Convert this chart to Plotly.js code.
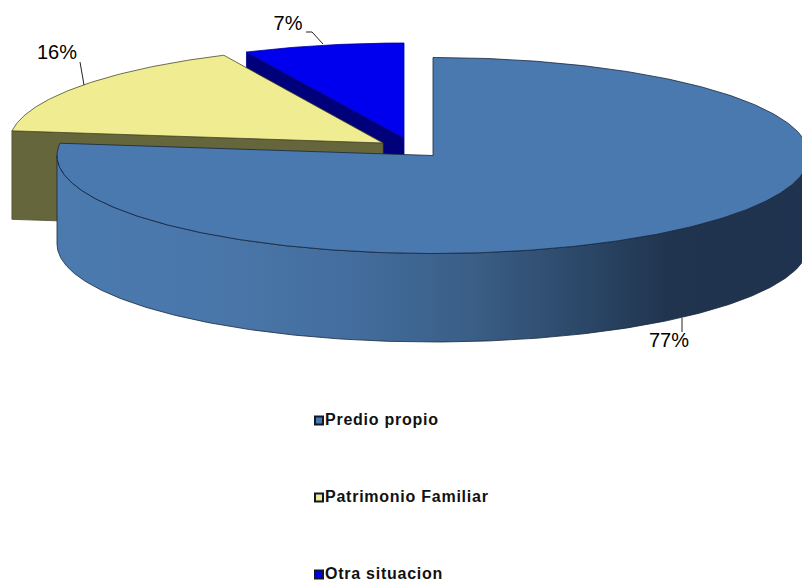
<!DOCTYPE html>
<html>
<head>
<meta charset="utf-8">
<script src="https://cdn.plot.ly/plotly-3.0.1.min.js"></script>
<style>html,body{margin:0;padding:0;background:#fff}#chart{width:802px;height:581px}
.scatterlayer .trace:last-child .textpoint text{letter-spacing:.75px}</style>
</head>
<body>
<div id="chart"></div>
<script>
const categories = ["Predio propio", "Patrimonio Familiar", "Otra situacion"];
const shares = [77, 16, 7];

// Styles and geometry of the tilted, exploded pie (pixel-scale axes)
const topColors = ["#4a79af", "#f0ec92", "#0000ee"];
const wallColors = ["#1f3350", "#66663c", "#00007a"];
const edgeColors = ["#16263c", "#4a4a2a", "#0000a0"];
const apexes = [[433, 155.5], [383, 143], [404, 138]];
const radii = [[376, 98], [374, 97], [370, 95]];
const depth = 88.5;
const labelPos = [[669, 342], [57, 54], [288, 25]];
const leaders = [
  [[682, 318], [682, 332]],
  [[84, 85], [80, 62]],
  [[323, 44], [312, 32], [306, 32]]
];
const legendY = [420.5, 497.5, 574.5];
const legendX = 319;

const total = shares.reduce((a, b) => a + b, 0);
let acc = 0;
const spans = shares.map(v => { const s = acc; acc += v; return [s / total * 2 * Math.PI, acc / total * 2 * Math.PI]; });

function arc(i, a0, a1, dy) {
  const [cx, cy] = apexes[i], [rx, ry] = radii[i];
  const n = Math.max(2, Math.ceil(Math.abs(a1 - a0) / 0.01));
  const xs = [], ys = [];
  for (let k = 0; k <= n; k++) {
    const t = a0 + (a1 - a0) * k / n;
    xs.push(cx + rx * Math.sin(t));
    ys.push(cy - ry * Math.cos(t) + dy);
  }
  return [xs, ys];
}
function topSlice(i) {
  const [xs, ys] = arc(i, spans[i][0], spans[i][1], 0);
  return {
    type: "scatter", mode: "lines", name: categories[i], showlegend: false, hoverinfo: "name",
    x: [apexes[i][0], ...xs, apexes[i][0]], y: [apexes[i][1], ...ys, apexes[i][1]],
    fill: "toself", fillcolor: topColors[i], line: { color: edgeColors[i], width: 0.8 }
  };
}
// front wall along a radial edge (apex to rim at the given angle)
function radialWall(i, ang) {
  const [cx, cy] = apexes[i], [rx, ry] = radii[i];
  const px = cx + rx * Math.sin(ang), py = cy - ry * Math.cos(ang);
  return {
    type: "scatter", mode: "lines", showlegend: false, hoverinfo: "skip",
    x: [px, cx, cx, px, px], y: [py, cy, cy + depth, py + depth, py],
    fill: "toself", fillcolor: wallColors[i], line: { color: edgeColors[i], width: 0.8 }
  };
}
// outer curved wall of the biggest slice, with shading across it
function curvedWall(i) {
  const a0 = Math.PI / 2, a1 = 3 * Math.PI / 2;
  const [x1, y1] = arc(i, a0, a1, 0);
  const [x2, y2] = arc(i, a1, a0, depth);
  return {
    type: "scatter", mode: "lines", showlegend: false, hoverinfo: "skip",
    x: [...x1, ...x2, x1[0]], y: [...y1, ...y2, y1[0]],
    fill: "toself",
    fillgradient: {
      type: "horizontal", start: 57, stop: 802,
      colorscale: [[0, "#4b7aaf"], [0.2, "#4a77ab"], [0.4, "#436d9d"], [0.56, "#3a5e86"],
                   [0.72, "#2a4565"], [0.82, "#20344e"], [1, "#1f3350"]]
    },
    line: { color: edgeColors[i], width: 0.8 }
  };
}

const traces = [
  radialWall(2, spans[2][0]),
  topSlice(2),
  radialWall(1, spans[1][0]),
  topSlice(1),
  curvedWall(0),
  topSlice(0)
];

leaders.forEach(l => traces.push({
  type: "scatter", mode: "lines", showlegend: false, hoverinfo: "skip",
  x: l.map(p => p[0]), y: l.map(p => p[1]), line: { color: "#222", width: 1 }
}));

traces.push({
  type: "scatter", mode: "text", showlegend: false, hoverinfo: "skip",
  x: labelPos.map(p => p[0]), y: labelPos.map(p => p[1]),
  text: shares.map(v => v + "%"), textposition: "middle center",
  textfont: { family: "Liberation Sans, Arial, sans-serif", size: 20, color: "#000" }
});

traces.push({
  type: "scatter", mode: "markers+text", showlegend: false, hoverinfo: "skip",
  x: categories.map(() => legendX), y: legendY,
  text: categories, textposition: "middle right",
  marker: { symbol: "square", size: 8, color: topColors, line: { color: "#10182a", width: 2 } },
  textfont: { family: "Liberation Sans, Arial, sans-serif", size: 16, color: "#111", weight: 700 }
});

Plotly.newPlot("chart", traces, {
  width: 802, height: 581,
  margin: { l: 0, r: 0, t: 0, b: 0 },
  paper_bgcolor: "#fff", plot_bgcolor: "#fff",
  showlegend: false,
  xaxis: { range: [0, 802], visible: false, fixedrange: true },
  yaxis: { range: [581, 0], visible: false, fixedrange: true }
}, { staticPlot: true, displayModeBar: false });
</script>
</body>
</html>
